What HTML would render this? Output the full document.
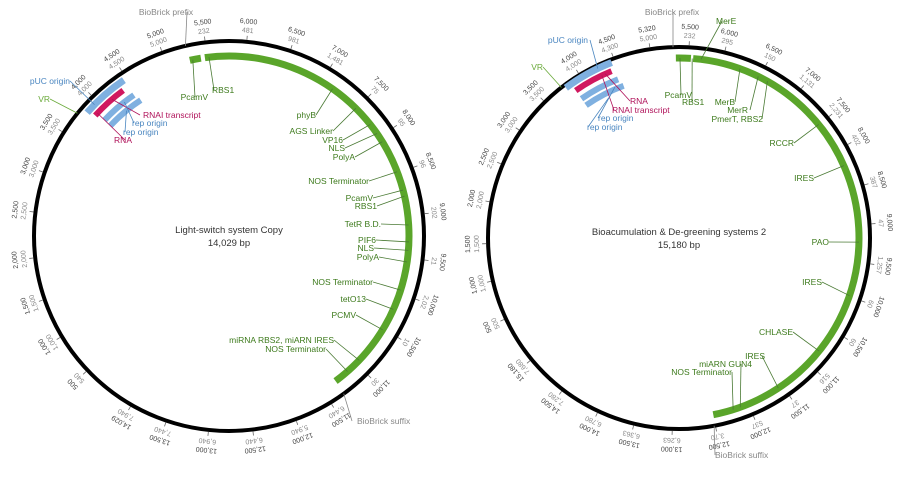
<!DOCTYPE html>
<html><head><meta charset="utf-8"><style>
html,body{margin:0;padding:0;background:#fff;}
svg{display:block;font-family:"Liberation Sans",sans-serif;}
</style></head><body>
<svg id="chart" width="900" height="477" viewBox="0 0 900 477"></svg>
<script>
// ---- Left map data ----
const leftFeatureNames = ["PcamV","main-cassette","pUC origin","RNAI transcript","rep origin","rep origin 2"];
const leftFeatureStart = [5290,5480,3871,3910,3948,3948];
const leftFeatureEnd   = [5430,11380,4455,4377,4455,4494];
const leftLabelNames = ["RBS1","PcamV","phyB","AGS Linker","VP16","NLS","PolyA","NOS Terminator","PcamV","RBS1","TetR B.D.","PIF6","NLS","PolyA","NOS Terminator","tetO13","PCMV","miRNA RBS2, miARN IRES","NOS Terminator","pUC origin","VR","RNAI transcript","rep origin","rep origin","RNA","BioBrick prefix","BioBrick suffix"];
const leftLabelBp = [5531,5328,7148,7526,7795,7935,8056,8473,8711,8788,9151,9361,9466,9611,9969,10225,10511,10990,11190,4000,3793,4200,4300,4250,3950,5277,11390];
const leftTickPos = [4050,4494,5001,5507,5983,6493,6988,7534,7986,8492,9034,9560,10016,10495,11041,11571,12015,12522,13029,13524,13964,14607,15094,15562,16052,16575,17042,17549];
const leftTickOuter = ["4,000","4,500","5,000","5,500","6,000","6,500","7,000","7,500","8,000","8,500","9,000","9,500","10,000","10,500","11,000","11,500","12,000","12,500","13,000","13,500","14,029","500","1,000","1,500","2,000","2,500","3,000","3,500"];
const leftTickInner = ["4,000","4,500","5,000","232","481","981","1,481","75","95","96","202","21","2,02","10","30","6,440","5,940","6,440","6,940","7,440","7,940","540","1,000","1,500","2,000","2,500","3,000","3,500"];
// ---- Right map data ----
const rightFeatureNames = ["PcamV","main-cassette","pUC origin","RNAI transcript","rep origin","rep origin 2"];
const rightFeatureStart = [5328,5560,3810,3894,3894,3894];
const rightFeatureEnd   = [5530,12497,4485,4442,4485,4527];
const rightLabelNames = ["MerE","PcamV","RBS1","MerB","MerR","PmerT, RBS2","RCCR","IRES","PAO","IRES","CHLASE","IRES","miARN GUN4","NOS Terminator","pUC origin","VR","RNA","RNAI transcript","rep origin","rep origin","BioBrick prefix","BioBrick suffix"];
const rightLabelBp = [5666,5383,5547,6205,6471,6610,7516,8166,9220,9953,10805,11548,12121,12222,4290,3768,4350,4300,4400,4250,5294,12513];
const rightTickPos = [3489,4046,4527,5003,5497,5952,6496,7027,7521,7942,8491,8988,9490,9967,10473,11021,11485,12003,12497,13045,13534,14015,14538,15090,15702,16208,16684,17211,17709,18190];
const rightTickOuter = ["3,500","4,000","4,500","5,320","5,500","6,000","6,500","7,000","7,500","8,000","8,500","9,000","9,500","10,000","10,500","11,000","11,500","12,000","12,500","13,000","13,500","14,000","14,500","15,180","500","1,000","1,500","2,000","2,500","3,000"];
const rightTickInner = ["3,500","4,000","4,300","5,000","232","295","150","1,131","2,231","402","387","47","1,257","60","60","516","37","537","3,70","6,263","6,363","6,780","7,280","7,680","500","1,000","1,500","2,000","2,500","3,000"];

const NS="http://www.w3.org/2000/svg";
const svg=document.getElementById('chart');
function mk(tag,attrs,parent){const e=document.createElementNS(NS,tag);for(const k in attrs)e.setAttribute(k,attrs[k]);(parent||svg).appendChild(e);return e;}

function makeMap(cfg){
  const {cx,cy,r,zero,total}=cfg;
  const ang=bp=>(bp-zero)/total*2*Math.PI;
  const pt=(bp,R)=>{const a=ang(bp);return [cx+R*Math.sin(a),cy-R*Math.cos(a)];};
  const g=mk('g',{});
  
  
  const c=mk('circle',{cx,cy,r,fill:'none',stroke:'#000','stroke-width':4},g);
  
  
  // ticks
  cfg.tickPos.forEach((bp,i)=>{
    const [x1,y1]=pt(bp,r+2),[x2,y2]=pt(bp,r+6);
    const t=mk('line',{x1,y1,x2,y2,stroke:'#666','stroke-width':0.8},g);
    
    
    const deg=ang(bp)*180/Math.PI;
    [[cfg.tickOuter[i],r+20,'#444'],[cfg.tickInner[i],r+11,'#888']].forEach(([txt,R,col])=>{
      const [x,y]=pt(bp,R);
      const tx=mk('text',{x,y,fill:col,'font-size':7,'text-anchor':'middle','dominant-baseline':'middle',transform:`rotate(${deg} ${x} ${y})`},g);
      tx.textContent=txt;
      
      
    });
  });
  // features
  const styles=[['#5aa52a',180,7],['#5aa52a',180,7],['#7fb0e0',188,7],['#d0185f',180,6],['#7fb0e0',170,6],['#7fb0e0',162,6]];
  cfg.fStart.forEach((s,i)=>{
    const [col,R,w]=styles[i];const e=cfg.fEnd[i];
    const [x1,y1]=pt(s,R),[x2,y2]=pt(e,R);
    const large=(ang(e)-ang(s))>Math.PI?1:0;
    const p=mk('path',{d:`M${x1},${y1} A${R},${R} 0 ${large} 1 ${x2},${y2}`,fill:'none',stroke:col,'stroke-width':w},g);
    
    
  });
  // labels
  cfg.labelNames.forEach((n,i)=>{
    const L=cfg.layout[i];const col=L[3]||'#3d7a1c';
    const [px,py]=pt(cfg.labelBp[i],L[4]||180);
    const l=mk('line',{x1:L[5]!==undefined?L[5]:L[0],y1:L[1]-3,x2:px,y2:py,stroke:col==='#3d7a1c'?'#4a7a34':col,'stroke-width':0.8},g);
    
    
    const t=mk('text',{x:L[0],y:L[1],fill:col,'font-size':8.5,'text-anchor':L[2]},g);
    t.textContent=n;
    
    
  });
  [[cfg.title,cy-3,9.5],[cfg.size,cy+10,9.5]].forEach(([txt,y,fs])=>{
    const t=mk('text',{x:cx,y,fill:'#333','font-size':fs,'text-anchor':'middle'},g);
    t.textContent=txt;
    
    
  });
}
const G='#3d7a1c',B='#4a86c0',P='#b0125a',Y='#888';
makeMap({name:'left-plasmid-map',cx:229,cy:236,r:195,zero:5780,total:14029,
  fNames:leftFeatureNames,fStart:leftFeatureStart,fEnd:leftFeatureEnd,
  labelNames:leftLabelNames,labelBp:leftLabelBp,
  tickPos:leftTickPos,tickOuter:leftTickOuter,tickInner:leftTickInner,
  title:'Light-switch system Copy',size:'14,029 bp',
  layout:[[212,93,'start',G,180,214],[208,100,'end',G,180,195],[316,118,'end'],[333,134,'end'],[343,143,'end'],[345,151,'end'],[355,160,'end'],[369,184,'end'],[373,201,'end'],[377,209,'end'],[381,227,'end'],[376,243,'end'],[374,251,'end'],[379,260,'end'],[373,285,'end'],[366,302,'end'],[356,318,'end'],[334,343,'end'],[326,352,'end'],
   [70,84,'end',B,188],[50,102,'end','#6aaa3a',195],[143,118,'start',P,180,140],[132,126,'start',B,170,134],[123,135,'start',B,162,125],[132,143,'end',P,180,125],[166,15,'middle',Y,195,187],[357,424,'start',Y,195,352]]});
makeMap({name:'right-plasmid-map',cx:679,cy:238,r:191,zero:5370,total:15180,
  fNames:rightFeatureNames,fStart:rightFeatureStart,fEnd:rightFeatureEnd,
  labelNames:rightLabelNames,labelBp:rightLabelBp,
  tickPos:rightTickPos,tickOuter:rightTickOuter,tickInner:rightTickInner,
  title:'Bioacumulation & De-greening systems 2',size:'15,180 bp',
  layout:[[716,24,'start',G,180,722],[692,98,'end',G,180,681],[682,105,'start',G,180,692],[735,105,'end',G,180,735],[748,113,'end',G,180,750],[763,122,'end',G,180,762],[794,146,'end'],[814,181,'end'],[829,245,'end'],[822,285,'end'],[793,335,'end'],[765,359,'end',G,180,762],[752,367,'end',G,180,741],[732,375,'end',G,180,732],
   [588,43,'end',B,188,590],[543,70,'end','#6aaa3a',191],[630,104,'start',P,180,630],[612,113,'start',P,180,614],[598,121,'start',B,164,598],[587,130,'start',B,157,588],[672,15,'middle',Y,191,673],[715,458,'start',Y,191,715]]});
</script>
</body></html>
